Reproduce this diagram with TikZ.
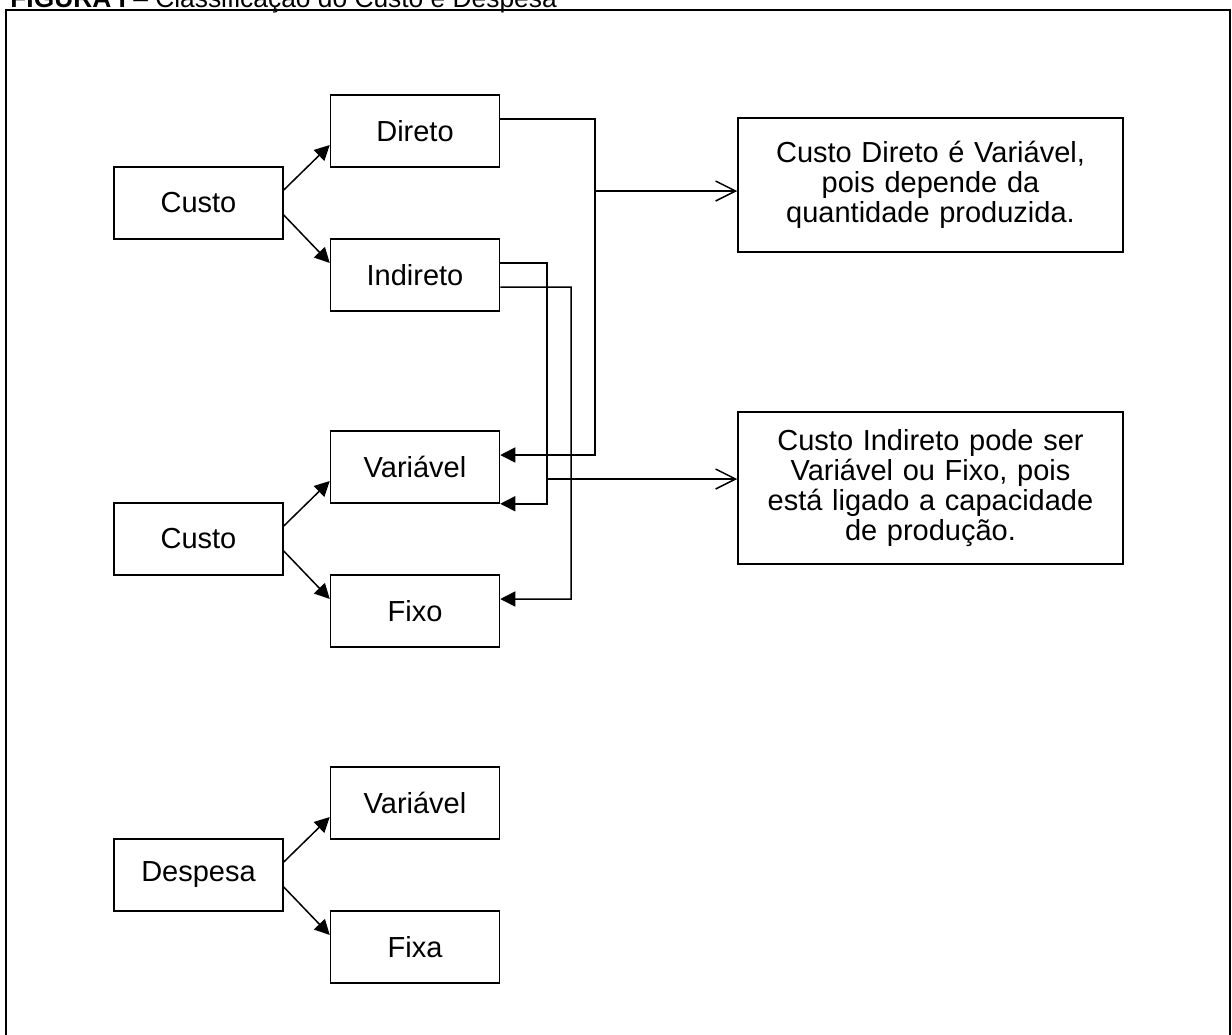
\documentclass[tikz,border=0pt]{standalone}
\usepackage{fontspec}
\setmainfont{Liberation Sans}
\usetikzlibrary{arrows.meta,positioning}

\begin{document}
\begin{tikzpicture}[x=0.2mm, y=-0.2mm,
  box/.style={draw, line width=0.85pt, minimum width=3.38cm, minimum height=1.44cm, inner sep=0pt, align=center, font=\fontsize{16.5pt}{17pt}\selectfont},
  note/.style={box, minimum width=7.7cm, text width=7.2cm},
  arr/.style={-{Triangle[length=0.3cm, width=0.3cm]}, line width=0.85pt},
  arro/.style={-{Straight Barb[length=0.4cm, width=0.4cm]}, line width=0.85pt},
  title/.style={anchor=base west, inner sep=0pt, font=\fontsize{15pt}{17pt}\selectfont}]
\useasboundingbox (0,0) rectangle (1232,1034);
\draw[line width=1.1pt] (6,10) rectangle (1230,1060);
\node[title] (tit) at (10,7) {\textbf{FIGURA I} – Classificação do Custo e Despesa};

\node[box] (c1)   at (198.5,203) {Custo};
\node[box] (dir)  at (415,131)   {Direto};
\node[box] (ind)  at (415,275)   {Indireto};
\draw[arr] ([yshift=0.26cm]c1.east) -- ([yshift=-0.28cm]dir.west);
\draw[arr] ([yshift=-0.24cm]c1.east) -- ([yshift=0.24cm]ind.west);

\node[box] (c2)   at (198.5,539) {Custo};
\node[box] (var1) at (415,467)   {Variável};
\node[box] (fix)  at (415,611)   {Fixo};
\draw[arr] ([yshift=0.26cm]c2.east) -- ([yshift=-0.28cm]var1.west);
\draw[arr] ([yshift=-0.24cm]c2.east) -- ([yshift=0.24cm]fix.west);

\node[box] (desp) at (198.5,875) {Despesa};
\node[box] (var2) at (415,803)   {Variável};
\node[box] (fixa) at (415,947)   {Fixa};
\draw[arr] ([yshift=0.26cm]desp.east) -- ([yshift=-0.28cm]var2.west);
\draw[arr] ([yshift=-0.24cm]desp.east) -- ([yshift=0.24cm]fixa.west);

\node[note, minimum height=2.68cm] (t1) at (930.5,185)
  {Custo Direto é Variável,\\pois depende da\\quantidade produzida.};
\node[note, minimum height=3.04cm] (t2) at (930.5,488)
  {Custo Indireto pode ser\\Variável ou Fixo, pois\\está ligado a capacidade\\de produção.};

\coordinate (busA) at (595,191);
\coordinate (busB) at (547,479);
\coordinate (busC) at (571,599);
\draw[arr] ([yshift=0.24cm]dir.east) -| (busA) |- ([yshift=0.24cm]var1.east);
\draw[arro] (busA) -- (t1.west |- busA);
\draw[arr] ([yshift=0.24cm]ind.east) -| (busB) |- (var1.south east);
\draw[arro] (busB) -- (t2.west |- busB);
\draw[arr] ([yshift=-0.24cm]ind.east) -| (busC) -- ([yshift=0.24cm]fix.east);
\end{tikzpicture}
\end{document}
